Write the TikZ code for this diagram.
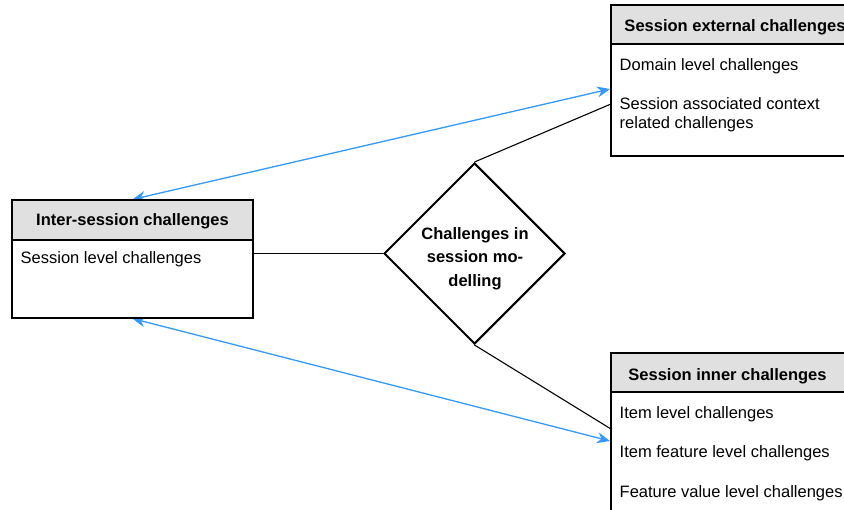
\documentclass[tikz,border=0pt]{standalone}
\usepackage{fontspec}
\setmainfont{Liberation Sans}
\usetikzlibrary{shapes.geometric,arrows.meta}
\pgfdeclarelayer{bg}
\pgfsetlayers{bg,main}
\definecolor{headgray}{HTML}{E0E0E0}
\definecolor{linkblue}{HTML}{3399FF}
\tikzset{
    every node/.style={inner sep=0mm, font=\fontsize{16.5}{19.8}\selectfont}
}
\tikzset{
    head/.style={rectangle, draw, fill=headgray, line width=1.2pt},
    body/.style={rectangle, draw, fill=white, line width=1.2pt},
    entry/.style={anchor=base west},
    title/.style={anchor=base, font=\fontsize{16.5}{19.8}\selectfont\bfseries},
    tie/.style={line width=1.1pt},
    link/.style={draw=linkblue, line width=1.3pt, {Stealth[length=13pt,width=11pt]}-{Stealth[length=13pt,width=11pt]}}
}

\begin{document}
\begin{tikzpicture}[x=1pt, y=-1pt]
    \useasboundingbox (0, 0) rectangle (844, 510);
    \clip (0, 0) rectangle (844, 510);

    \node (interh) at (132.5, 220) [head, minimum width=241pt, minimum height=40pt] {};
    \node (interb) at (132.5, 279) [body, minimum width=241pt, minimum height=78pt] {};
    \node (intert) at (132.5, 225.7) [title] {Inter-session challenges};
    \node (interi) at (20.5, 264) [entry] {Session level challenges};

    \node (exth) at (741, 24.5) [head, minimum width=260pt, minimum height=39pt] {};
    \node (extb) at (741, 100) [body, minimum width=260pt, minimum height=112pt] {};
    \node (extt) at (735, 31.7) [title] {Session external challenges};
    \node (exta) at (619.5, 71) [entry] {Domain level challenges};
    \node (extc) at (619.5, 110) [entry] {Session associated context};
    \node (extd) at (619.5, 128.8) [entry] {related challenges};

    \node (innh) at (741, 372.5) [head, minimum width=260pt, minimum height=39pt] {};
    \node (innb) at (741, 461) [body, minimum width=260pt, minimum height=138pt] {};
    \node (innt) at (727.5, 380.7) [title] {Session inner challenges};
    \node (inna) at (619.5, 418.3) [entry] {Item level challenges};
    \node (innc) at (619.5, 457.8) [entry] {Item feature level challenges};
    \node (innd) at (619.5, 497.3) [entry] {Feature value level challenges};

    \node (core) at (474.5, 253.5) [diamond, aspect=1, draw, line width=2pt, minimum width=181pt, minimum height=181pt] {};
    \node (coret) at (475, 258.5) [align=center, font=\fontsize{16.5}{23.7}\selectfont\bfseries] {Challenges in\\session mo-\\delling};

    \coordinate (extin) at (611, 104);
    \coordinate (extar) at (610, 89);
    \coordinate (innin) at (611, 429);
    \coordinate (innar) at (610, 441);

    \begin{pgfonlayer}{bg}
        \draw[tie] (interb.east |- core.west) -- (core.west);
        \draw[tie] (core.north) -- (extin);
        \draw[tie] (core.south) -- (innin);
        \draw[link] (interh.north) -- (extar);
        \draw[link] (interb.south) -- (innar);
    \end{pgfonlayer}
\end{tikzpicture}
\end{document}
